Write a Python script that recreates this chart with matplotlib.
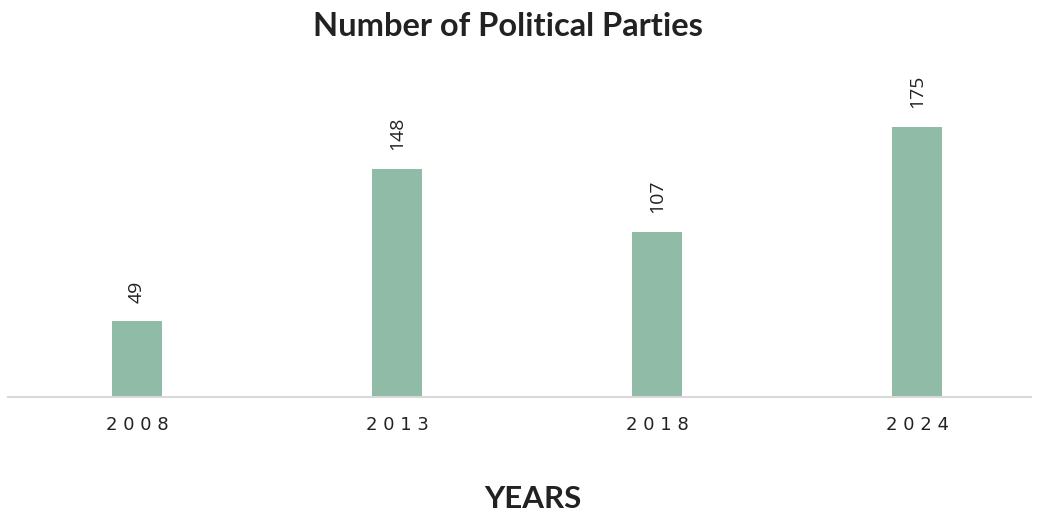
import matplotlib.pyplot as plt

years = ["2008", "2013", "2018", "2024"]
parties = [49, 148, 107, 175]

fig = plt.figure(figsize=(10.45, 5.13), dpi=100)
# axes placed in pixel terms: baseline at y=397, spine from x=8 to x=1031
W, H = 1045, 513
ax = fig.add_axes([8 / W, (H - 397) / H, (1031 - 8) / W, (397 - 60) / H])

x = list(range(len(years)))
ax.bar(x, parties, width=0.19, color="#8fbba7")

ax.set_xlim((8 - 137) / 260, (1031 - 137) / 260)
ax.set_ylim(0, (397 - 60) / 1.543)

for xi, v in zip(x, parties):
    ax.annotate(str(v), (xi, v), xytext=(0, 13.5), textcoords="offset points",
                rotation=90, ha="center", va="bottom", fontsize=14,
                family="Open Sans", color="#222222")

ax.set_xticks(x)
ax.set_xticklabels([" ".join(y) for y in years], fontsize=13,
                   family="DejaVu Sans", color="#222222")
ax.tick_params(axis="x", length=0, pad=14)
ax.set_yticks([])
for s in ["top", "right", "left"]:
    ax.spines[s].set_visible(False)
ax.spines["bottom"].set_color("#d9d9d9")
ax.spines["bottom"].set_linewidth(1.5)

fig.text(508 / W, 1 - 26 / H, "Number of Political Parties", ha="center",
         va="center", fontsize=23.5, fontweight="bold", family="Lato",
         color="#222222")
fig.text(533 / W, 1 - 499 / H, "YEARS", ha="center", va="center",
         fontsize=22.5, fontweight="bold", family="Lato", color="#222222")

fig.savefig("out.png", dpi=100)
